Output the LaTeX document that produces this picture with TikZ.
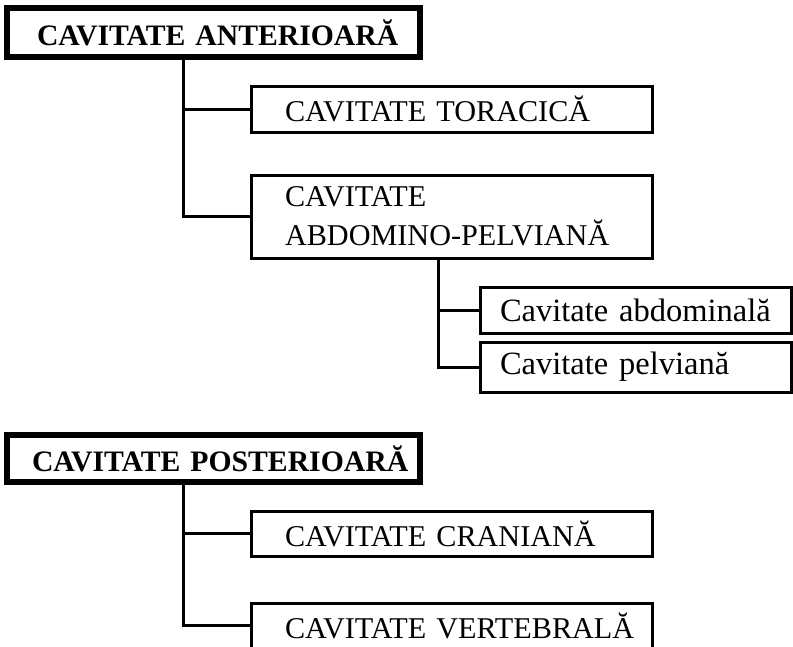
\documentclass[tikz,border=0pt]{standalone}
\usepackage{fontspec}
\setmainfont{Liberation Serif}
\begin{document}
\begin{tikzpicture}[x=1pt,y=-1pt,
  box/.style={draw, line width=3pt, anchor=north west, outer sep=0pt, inner ysep=0pt,
    align=left, font=\fontsize{30.2}{39}\selectfont},
  lbox/.style={box, font=\fontsize{32.5}{39}\selectfont},
  hbox/.style={box, line width=5.5pt, font=\bfseries\fontsize{29.7}{39}\selectfont},
  conn/.style={line width=3pt}]
\useasboundingbox (0,0) rectangle (793,646);
\clip (0,0) rectangle (793,646);
% anterior cavity
\node[hbox, minimum width=413pt, minimum height=49pt, text width=353pt, inner xsep=30pt] (A) at (7,8) {\mbox{CAVITATE ANTERIOARĂ}};
\node[box, minimum width=401pt, minimum height=46pt, text width=333pt, inner xsep=34pt] (T) at (251,86) {\mbox{CAVITATE TORACICĂ}};
\node[box, minimum width=401pt, minimum height=83pt, text width=333pt, inner xsep=34pt] (AP) at (251,175) {\mbox{CAVITATE}\\\mbox{ABDOMINO-PELVIANĂ}};
\node[lbox, minimum width=311pt, minimum height=46pt, text width=271pt, inner xsep=20pt] (Ab) at (480,287) {\mbox{Cavitate abdominală}};
\node[lbox, minimum width=311pt, minimum height=50pt, text width=271pt, inner xsep=20pt] (Pe) at (480,342) {\mbox{Cavitate pelviană}};
% posterior cavity
\node[hbox, minimum width=413pt, minimum height=47pt, text width=363pt, inner xsep=25pt] (P) at (7,435) {\mbox{CAVITATE POSTERIOARĂ}};
\node[box, minimum width=401pt, minimum height=45pt, text width=333pt, inner xsep=34pt] (Cr) at (251,511) {\mbox{CAVITATE CRANIANĂ}};
\node[box, minimum width=401pt, minimum height=45pt, text width=333pt, inner xsep=34pt] (Ve) at (251,603) {\mbox{CAVITATE VERTEBRALĂ}};
% connectors
\coordinate (a0) at ([xshift=176pt]A.south west);
\coordinate (p0) at ([xshift=176pt]P.south west);
\coordinate (ap0) at ([xshift=187pt]AP.south west);
\draw[conn] (a0) |- (T.west);
\draw[conn] (a0) |- (AP.west);
\draw[conn] (ap0) |- (Ab.west);
\draw[conn] (ap0) |- (Pe.west);
\draw[conn] (p0) |- (Cr.west);
\draw[conn] (p0) |- (Ve.west);
\end{tikzpicture}
\end{document}
